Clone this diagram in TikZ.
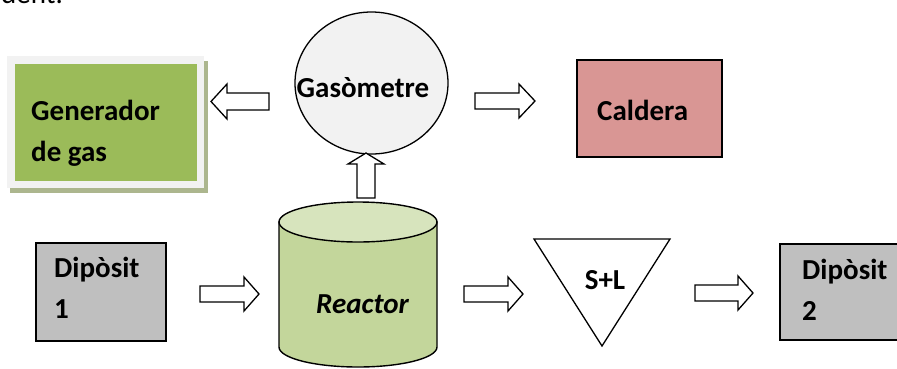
\documentclass[tikz,border=0pt]{standalone}
\usepackage{fontspec}
\setmainfont{Carlito}
\usetikzlibrary{shapes.geometric}
\definecolor{gengreen}{HTML}{9BBB59}
\definecolor{calpink}{HTML}{D99694}
\definecolor{depgray}{HTML}{BFBFBF}
\definecolor{reacbody}{HTML}{C3D69B}
\definecolor{reactop}{HTML}{D7E4BD}
\definecolor{gasfill}{HTML}{F2F2F2}
\definecolor{shadowgreen}{HTML}{ACB68E}
\newcommand\hblockarrow[4]{% tail, head base, tip, y centre
  \draw[barrow] (#1,{#4-8}) -- (#2,{#4-8}) -- (#2,{#4-17}) -- (#3,#4) -- (#2,{#4+17}) -- (#2,{#4+8}) -- (#1,{#4+8}) -- cycle;}
\begin{document}
\begin{tikzpicture}[x=1pt,y=-1pt,
  lbl/.style={font=\fontsize{29}{34}\selectfont\bfseries, inner sep=0pt, anchor=base west},
  barrow/.style={draw=black, line width=1.3pt, fill=white, line join=miter},
  boxnode/.style={draw=black, line width=1.6pt, inner sep=0pt}]
\useasboundingbox (0,0) rectangle (897,368);
\clip (0,0) rectangle (897,368);
% fragment of preceding text line
\node[font=\fontsize{29}{34}\selectfont, inner sep=0pt, anchor=base west] (frag) at (1,3) {dent.};
% Generador de gas
\fill[shadowgreen] (10,61) rectangle (208,193);
\fill[gasfill] (7,56) rectangle (204,188);
\node[fill=gengreen, inner sep=0pt, minimum width=182pt, minimum height=117pt] (gen) at (106,122.5) {};
\node[lbl] (gent1) at (31,120) {Generador};
\node[lbl] (gent2) at (31,161) {de gas};
% Gasometre
\node[ellipse, draw=black, line width=1.3pt, fill=gasfill, minimum width=153pt, minimum height=142pt, inner sep=0pt] (gas) at (371.5,83) {};
\node[lbl, anchor=base] (gast) at (363,97) {Gasòmetre};
% Caldera
\node[boxnode, fill=calpink, minimum width=145pt, minimum height=97pt] (cal) at (649.5,108.5) {};
\node[lbl] (calt) at (597,120) {Caldera};
% Diposit 1
\node[boxnode, fill=depgray, minimum width=130pt, minimum height=98pt] (dep1) at (101,292) {};
\node[lbl] (dep1a) at (54,277) {Dipòsit};
\node[lbl] (dep1b) at (54,318) {1};
% Diposit 2
\node[boxnode, fill=depgray, minimum width=130pt, minimum height=96pt] (dep2) at (845,292) {};
\node[lbl] (dep2a) at (802,279) {Dipòsit};
\node[lbl] (dep2b) at (802,320) {2};
% Reactor
\filldraw[fill=reacbody, draw=black, line width=1.4pt] (279,222) -- (279,347) arc[start angle=180, end angle=0, x radius=79, y radius=20] -- (437,222) -- cycle;
\filldraw[fill=reactop, draw=black, line width=1.4pt] (358,222) ellipse [x radius=79, y radius=20];
\coordinate (reac) at (358,290);
\node[lbl, font=\fontsize{29}{34}\selectfont\bfseries\itshape] (react) at (316,313) {Reactor};
% S+L triangle
\filldraw[fill=white, draw=black, line width=1.3pt] (534,239) -- (670,239) -- (602,346) -- cycle;
\coordinate (sl) at (602,275);
\node[lbl, anchor=base] (slt) at (605,289) {S+L};
% block arrows
\draw[barrow] (269,{101.5-8.5}) -- (227,{101.5-8.5}) -- (227,84) -- (211,101.5) -- (227,119) -- (227,{101.5+8.5}) -- (269,{101.5+8.5}) -- cycle;
\hblockarrow{475}{519}{535}{101}
\hblockarrow{200}{244}{259}{294}
\hblockarrow{464}{508}{523}{294}
\hblockarrow{695}{738}{753}{293}
\draw[barrow] (357,198) -- (357,164) -- (348,164) -- (366,153) -- (384,164) -- (375,164) -- (375,198) -- cycle;
\end{tikzpicture}
\end{document}
